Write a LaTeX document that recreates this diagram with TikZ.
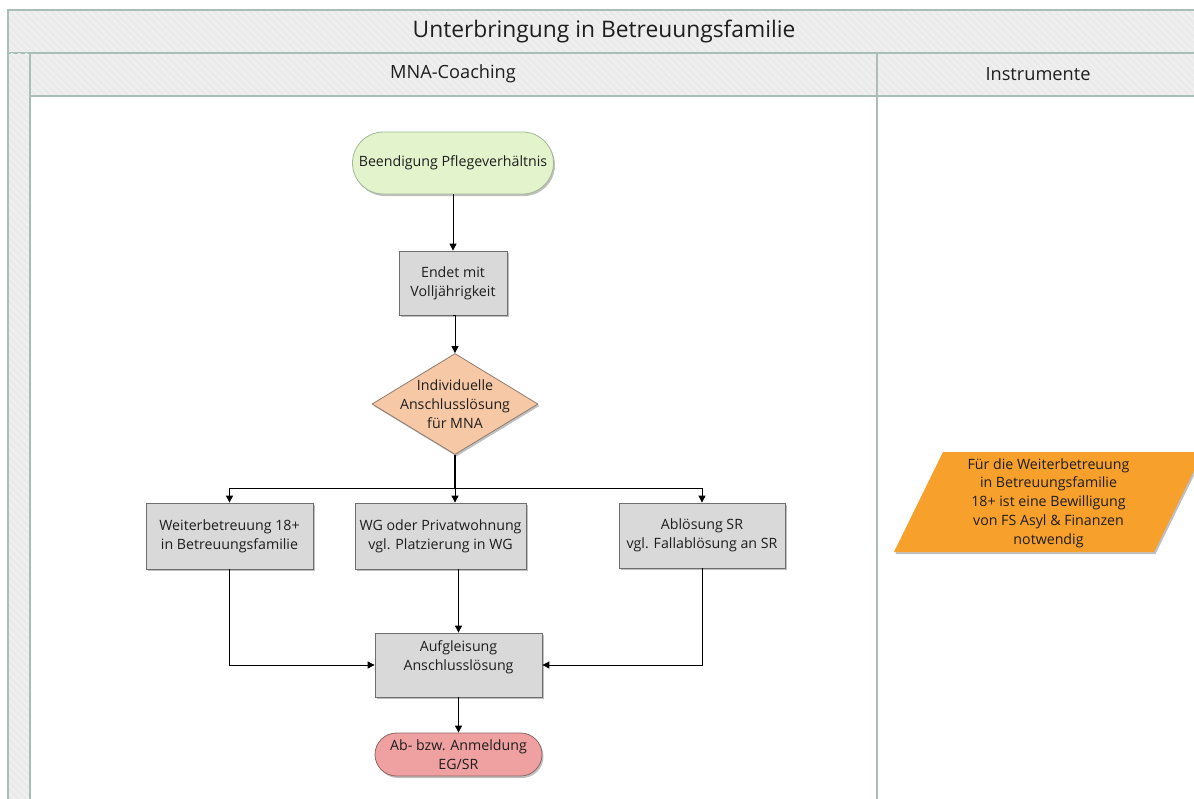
\documentclass[tikz,border=0pt]{standalone}
\usepackage{fontspec}
\setmainfont{Open Sans}
\usetikzlibrary{arrows.meta,shapes.geometric,patterns.meta,shadows}

\definecolor{frameline}{HTML}{A9BEB6}
\definecolor{headfill}{HTML}{EBEBEB}
\definecolor{headstripe}{HTML}{F1F1F1}
\definecolor{boxfill}{HTML}{D9D9D9}
\definecolor{boxline}{HTML}{6E6E6E}
\definecolor{startfill}{HTML}{E3F4CD}
\definecolor{startline}{HTML}{A3B893}
\definecolor{decfill}{HTML}{F6C8A6}
\definecolor{decline}{HTML}{8E7C70}
\definecolor{endfill}{HTML}{EFA0A0}
\definecolor{endline}{HTML}{8C6666}
\definecolor{notefill}{HTML}{F7A02B}
\definecolor{txt}{HTML}{1E1E1E}

\begin{document}
\begin{tikzpicture}[x=1pt,y=-1pt,
  nodefont/.style={font=\fontsize{14.2}{18.8}\selectfont, text=txt},
  head/.style={draw=frameline, line width=1.2pt, fill=headfill},
  stripes/.style={pattern={Lines[angle=-45,distance=5pt,line width=1.6pt]}, pattern color=headstripe},
  shade/.style={drop shadow={shadow xshift=1.5pt, shadow yshift=-2pt, opacity=0.25, fill=black}},
  procbox/.style={nodefont, draw=boxline, line width=0.8pt, fill=boxfill, shade,
    align=center, inner sep=0pt, rectangle},
  terminal/.style={nodefont, line width=0.8pt, shade, align=center, inner sep=0pt,
    rectangle},
  arr/.style={draw=black, line width=0.9pt, -{Triangle[length=7pt,width=7pt]}},
  link/.style={draw=black, line width=0.9pt}
]
\useasboundingbox (0,0) rectangle (1194,798);
\clip (0,0) rectangle (1194,798);

% ---- swimlane frame ----
\fill[white] (0,0) rectangle (1194,798);
\path[head] (8,10) rectangle (1210,53);
\path[stripes] (8,10) rectangle (1210,53);
\path[head] (8,53) rectangle (30,820);
\path[stripes] (8,53) rectangle (30,820);
\path[head] (30,53) rectangle (877,96);
\path[stripes] (30,53) rectangle (877,96);
\path[head] (877,53) rectangle (1210,96);
\path[stripes] (877,53) rectangle (1210,96);
\draw[frameline, line width=1.2pt] (8,10) rectangle (1210,820);
\draw[frameline, line width=1.2pt] (30,53) -- (1210,53);
\draw[frameline, line width=1.2pt] (30,96) -- (1210,96);
\draw[frameline, line width=1.2pt] (30,53) -- (30,820);
\draw[frameline, line width=1.2pt] (877,53) -- (877,820);

\node[font=\fontsize{22.8}{26}\selectfont, text=txt] (title) at (604,32) {Unterbringung in Betreuungsfamilie};
\node[font=\fontsize{18.2}{22}\selectfont, text=txt] (lane1) at (453,74) {MNA-Coaching};
\node[font=\fontsize{18.2}{22}\selectfont, text=txt] (lane2) at (1038,74) {Instrumente};

% ---- flow nodes ----
\node[terminal, fill=startfill, draw=startline, rounded corners=31pt,
      minimum width=201pt, minimum height=62pt] (start) at (453,163) {Beendigung Pflegeverhältnis};
\node[procbox, minimum width=108pt, minimum height=64pt] (endet) at (453,283) {Endet mit\\Volljährigkeit};
\node[diamond, draw=decline, fill=decfill, line width=0.8pt, shade, inner sep=0pt,
      minimum width=166pt, minimum height=101pt,
      label={[nodefont, align=center]center:Individuelle\\Anschlusslösung\\für MNA}] (dec) at (455,404) {};
\coordinate (split) at (455,488);

\node[procbox, minimum width=167pt, minimum height=66pt] (b1) at (229.5,536) {Weiterbetreuung 18+\\in Betreuungsfamilie};
\node[procbox, minimum width=171pt, minimum height=66pt] (b2) at (440.5,536) {WG oder Privatwohnung\\vgl. Platzierung in WG};
\node[procbox, minimum width=166pt, minimum height=65pt] (b3) at (702,535.5) {Ablösung SR\\vgl. Fallablösung an SR};

\node[procbox, minimum width=167pt, minimum height=64pt,
      label={[nodefont, align=center, yshift=8pt]center:Aufgleisung\\Anschlusslösung}] (auf) at (458.5,665) {};
\node[terminal, fill=endfill, draw=endline, rounded corners=21.5pt,
      minimum width=167pt, minimum height=43pt] (fin) at (458.5,754.5) {Ab- bzw. Anmeldung\\EG/SR};

% ---- note in the instruments lane ----
\fill[notefill, shade] (943,452) -- (1203,452) -- (1154,552) -- (894,552) -- cycle;
\node[nodefont, align=center] (note) at (1048.5,503)
  {Für die Weiterbetreuung\\in Betreuungsfamilie\\18+ ist eine Bewilligung\\von FS Asyl \& Finanzen\\notwendig};

% ---- connectors ----
\draw[arr] (start) -- (endet);
\draw[arr] (endet.south) -- (endet.south -| dec.north) -- (dec.north);
\draw[link, line width=1.8pt] (dec.south) -- (split);
\draw[arr] (split) -- (split |- b2.north);
\draw[arr] (split) -| (b1.north);
\draw[arr] (split) -| (b3.north);
\draw[arr] (auf.north |- b2.south) -- (auf.north);
\draw[arr] (b1.south) |- (auf.west);
\draw[arr] (b3.south) |- (auf.east);
\draw[arr] (auf) -- (fin);
\end{tikzpicture}
\end{document}
